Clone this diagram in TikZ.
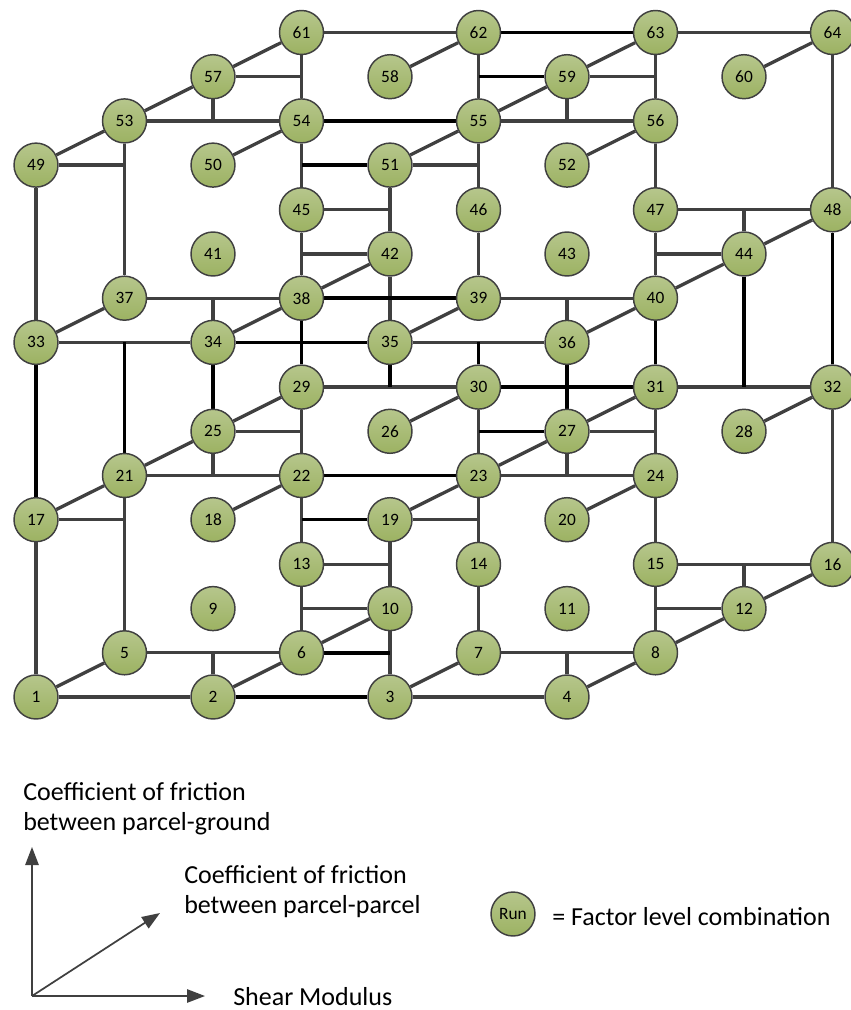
\documentclass[tikz,border=0pt]{standalone}
\usepackage{fontspec}
\setmainfont{Carlito}
\usetikzlibrary{arrows.meta}
\pgfdeclarelayer{background}
\pgfsetlayers{background,main}
\definecolor{edgegray}{HTML}{404040}
\definecolor{runtop}{HTML}{B6C68C}
\definecolor{runbottom}{HTML}{9CB262}

\begin{document}
\begin{tikzpicture}[x=0.75pt,y=-0.75pt,
  run/.style={circle,draw=edgegray,line width=1.1pt,top color=runtop,bottom color=runbottom,
    minimum size=33pt,inner sep=0pt,font=\fontsize{13}{15}\selectfont},
  link/.style={draw=edgegray,line width=2.5pt},
  boldlink/.style={draw=black,line width=2.6pt},
  axisarrow/.style={draw=edgegray,line width=1.3pt,-{Triangle[length=13.5pt,width=10pt]}},
  axistext/.style={anchor=base west,inner sep=0pt,font=\fontsize{19.5}{23}\selectfont}]

\useasboundingbox (0,0) rectangle (850,1010);

% 4 x 4 x 4 grid of runs: level L (up), depth D (back), column C (right)
\foreach \L in {0,...,3}{
  \foreach \D in {0,...,3}{
    \foreach \C in {0,...,3}{
      \pgfmathtruncatemacro\n{16*\L+4*\D+\C+1}
      \node[run] (n\n) at ({36+177*\C+88.5*\D},{697-177.3*\L-44.2*\D}) {\n};
    }
  }
}

\begin{pgfonlayer}{background}
% grey node-to-node connectors
\foreach \a/\b in {61/54,54/45,45/38,29/22,22/13,13/6,62/55,55/46,46/39,30/23,23/14,14/7,
    51/42,42/35,19/10,10/3,53/37,21/5,49/33,17/1,63/56,56/47,47/40,31/24,24/15,15/8,64/48,32/16,
    61/62,63/64,53/54,55/56,47/48,37/38,39/40,33/34,35/36,29/30,31/32,21/22,23/24,15/16,5/6,7/8,1/2,3/4,
    1/5,2/6,3/7,4/8,6/10,8/12,12/16,17/21,18/22,19/23,20/24,21/25,25/29,23/27,27/31,26/30,28/32,
    33/37,34/38,35/39,36/40,38/42,40/44,44/48,49/53,50/54,51/55,52/56,53/57,57/61,55/59,59/63,58/62,60/64}
  \draw[link] (n\a) -- (n\b);
% black node-to-node connectors
\foreach \a/\b in {38/29,34/25,36/27,33/17,40/31,48/32,62/63,54/55,38/39,34/35,30/31,22/23,2/3}
  \draw[boldlink] (n\a) -- (n\b);
% grey stubs meeting another connector
\foreach \a/\b in {57/61,49/53,59/63,51/55,45/51,42/45,44/47,25/29,27/31,17/21,19/23,13/19,10/13,12/15}
  \draw[link] (n\a) -- (n\a -| n\b);
\foreach \a/\b in {57/53,59/55,44/48,34/37,36/39,25/21,27/23,12/16,2/5,4/7}
  \draw[link] (n\a) -- (n\a |- n\b);
% black stubs meeting another connector
\foreach \a/\b in {59/62,51/54,27/30,19/22,6/10}
  \draw[boldlink] (n\a) -- (n\a -| n\b);
\foreach \a/\b in {44/32,21/33,35/29,30/35}
  \draw[boldlink] (n\a) -- (n\a |- n\b);
\end{pgfonlayer}

% factor axes
\coordinate (origin) at (32,996);
\coordinate (groundtip) at (32,847);
\coordinate (parceltip) at (160,913);
\coordinate (sheartip) at (205,996);
\draw[axisarrow] (origin) -- (groundtip);
\draw[axisarrow] (origin) -- (parceltip);
\draw[axisarrow] (origin) -- (sheartip);

\node[axistext] (groundA) at (23,800) {Coefficient of friction};
\node[axistext] (groundB) at (23,830) {between parcel-ground};
\node[axistext] (parcelA) at (184,883) {Coefficient of friction};
\node[axistext] (parcelB) at (184,913) {between parcel-parcel};
\node[axistext] (shear) at (233,1005) {Shear Modulus};

% key
\node[run] (runkey) at (513,914) {Run};
\node[axistext] (keytext) at (552,925) {= Factor level combination};

\end{tikzpicture}
\end{document}
